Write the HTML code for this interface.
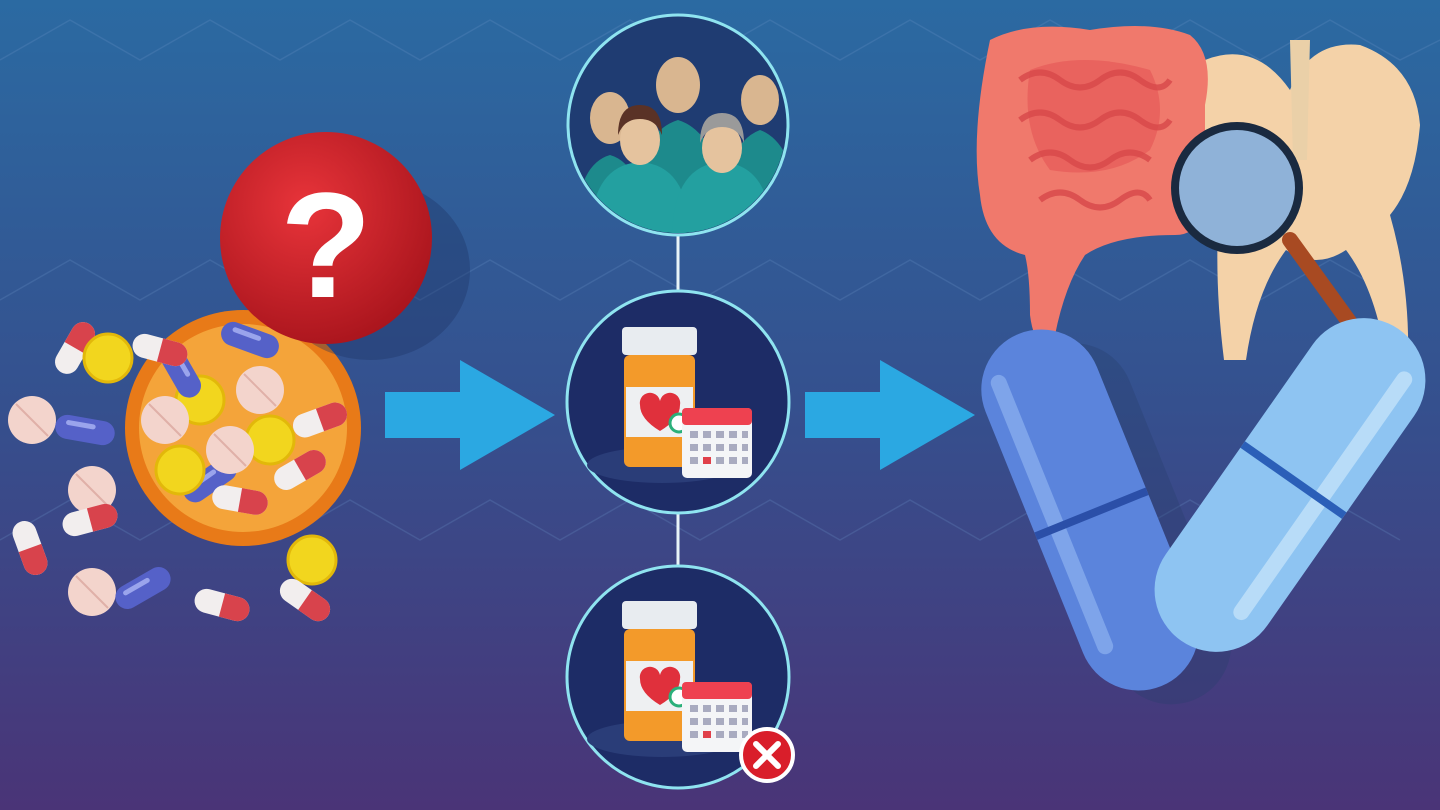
<!DOCTYPE html>
<html><head><meta charset="utf-8"><style>
html,body{margin:0;padding:0;width:1440px;height:810px;overflow:hidden}
svg{display:block}
</style></head><body>
<svg width="1440" height="810" viewBox="0 0 1440 810" xmlns="http://www.w3.org/2000/svg">
<defs>
<linearGradient id="bg" x1="0" y1="0" x2="0" y2="1">
<stop offset="0" stop-color="#2b6aa2"/><stop offset="0.5" stop-color="#35508e"/><stop offset="1" stop-color="#4a3477"/>
</linearGradient>
<radialGradient id="red" cx="0.4" cy="0.35" r="0.7">
<stop offset="0" stop-color="#e8343a"/><stop offset="1" stop-color="#a8141c"/>
</radialGradient>
<g id="bottle">
<ellipse cx="40" cy="138" rx="75" ry="18" fill="#2a3d78"/>
<rect x="0" y="0" width="75" height="28" rx="4" fill="#e8ecf0"/>
<rect x="2" y="28" width="71" height="112" rx="6" fill="#f39a2a"/>
<rect x="4" y="60" width="67" height="50" fill="#eef0f2"/>
<path d="M18 78 a10 10 0 0 1 20 -4 a10 10 0 0 1 20 4 q0 14 -20 26 q-20 -12 -20 -26z" fill="#e0303c"/>
<circle cx="57" cy="96" r="9" fill="#fff" stroke="#2bb07a" stroke-width="3"/>
<rect x="60" y="81" width="70" height="70" rx="5" fill="#f4f5f7"/>
<rect x="60" y="81" width="70" height="17" rx="4" fill="#ee4150"/>
<g fill="#a9abc0">
<rect x="68" y="104" width="8" height="7"/><rect x="81" y="104" width="8" height="7"/><rect x="94" y="104" width="8" height="7"/><rect x="107" y="104" width="8" height="7"/><rect x="120" y="104" width="6" height="7"/>
<rect x="68" y="117" width="8" height="7"/><rect x="81" y="117" width="8" height="7"/><rect x="94" y="117" width="8" height="7"/><rect x="107" y="117" width="8" height="7"/><rect x="120" y="117" width="6" height="7"/>
<rect x="68" y="130" width="8" height="7"/><rect x="94" y="130" width="8" height="7"/><rect x="107" y="130" width="8" height="7"/><rect x="120" y="130" width="6" height="7"/>
</g>
<rect x="81" y="130" width="8" height="7" fill="#e0404a"/>
</g>
<g id="pill">
<rect x="-28" y="-12" width="56" height="24" rx="12" fill="#f2eeee"/>
<path d="M0 -12 h16 a12 12 0 0 1 0 24 h-16z" fill="#d8434c"/>
</g>
<g id="bpill">
<rect x="-30" y="-12" width="60" height="24" rx="12" fill="#5561c8"/>
<rect x="-20" y="-7" width="30" height="5" rx="2.5" fill="#9aa4ec"/>
</g>
<g id="tab"><circle r="24" fill="#f3d4cc"/><line x1="-16" y1="-16" x2="16" y2="16" stroke="#e0b0a8" stroke-width="2"/></g>
<g id="ytab"><circle r="24" fill="#f2d61e"/><circle r="24" fill="none" stroke="#e2b80a" stroke-width="3"/></g>
</defs>
<rect width="1440" height="810" fill="url(#bg)"/>
<g stroke="#6a92c8" stroke-opacity="0.25" fill="none" stroke-width="1.5">
<path d="M0 60 L70 20 L140 60 L210 20 L280 60 L350 20 L420 60 L490 20 L560 60 L630 20 L700 60 L770 20 L840 60 L910 20 L980 60 L1050 20 L1120 60 L1190 20 L1260 60 L1330 20 L1400 60 L1440 40"/>
<path d="M0 300 L70 260 L140 300 L210 260 L280 300 L350 260 L420 300 L490 260 L560 300 L630 260 L700 300 L770 260 L840 300 L910 260 L980 300 L1050 260 L1120 300 L1190 260 L1260 300 L1330 260 L1400 300"/>
<path d="M0 540 L70 500 L140 540 L210 500 L280 540 L350 500 L420 540 L490 500 L560 540 L630 500 L700 540 L770 500 L840 540 L910 500 L980 540 L1050 500 L1120 540 L1190 500 L1260 540 L1330 500 L1400 540"/>
</g>
<!-- bowl -->
<circle cx="243" cy="428" r="118" fill="#e87a18"/>
<circle cx="243" cy="428" r="104" fill="#f4a43a"/>
<use href="#ytab" x="200" y="400"/><use href="#tab" x="165" y="420"/><use href="#ytab" x="270" y="440"/>
<use href="#tab" x="260" y="390"/><use href="#bpill" transform="translate(250,340) rotate(20)"/>
<use href="#bpill" transform="translate(210,480) rotate(-35)"/><use href="#pill" transform="translate(300,470) rotate(-30)"/>
<use href="#ytab" x="180" y="470"/><use href="#pill" transform="translate(240,500) rotate(10)"/>
<use href="#bpill" transform="translate(180,370) rotate(60)"/><use href="#pill" transform="translate(320,420) rotate(-20)"/>
<use href="#tab" x="230" y="450"/><use href="#pill" transform="translate(160,350) rotate(15)"/>
<!-- question ball -->
<ellipse cx="370" cy="270" rx="100" ry="90" fill="#1e3060" opacity="0.35"/>
<circle cx="326" cy="238" r="106" fill="url(#red)"/>
<text x="326" y="297" text-anchor="middle" font-family="Liberation Sans, sans-serif" font-weight="bold" font-size="150" fill="#fff">?</text>
<!-- scattered pills -->
<use href="#pill" transform="translate(75,348) rotate(-60)"/><use href="#ytab" x="108" y="358"/>
<use href="#tab" x="32" y="420"/><use href="#bpill" transform="translate(85,430) rotate(10)"/>
<use href="#tab" x="92" y="490"/><use href="#pill" transform="translate(90,520) rotate(-15)"/>
<use href="#pill" transform="translate(30,548) rotate(70)"/><use href="#tab" x="92" y="592"/>
<use href="#bpill" transform="translate(143,588) rotate(-30)"/><use href="#pill" transform="translate(222,605) rotate(15)"/>
<use href="#ytab" x="312" y="560"/><use href="#pill" transform="translate(305,600) rotate(35)"/>
<!-- arrows -->
<polygon points="385,392 460,392 460,360 555,415 460,470 460,438 385,438" fill="#2ba8e2"/>
<polygon points="805,392 880,392 880,360 975,415 880,470 880,438 805,438" fill="#2ba8e2"/>
<!-- circles -->
<line x1="678" y1="230" x2="678" y2="300" stroke="#e8f4f8" stroke-width="3"/>
<line x1="678" y1="510" x2="678" y2="570" stroke="#e8f4f8" stroke-width="3"/>
<circle cx="678" cy="125" r="110" fill="#1f3c72" stroke="#8fe4f0" stroke-width="3"/>
<circle cx="678" cy="402" r="111" fill="#1d2c66" stroke="#8fe4f0" stroke-width="3"/>
<circle cx="678" cy="677" r="111" fill="#1d2c66" stroke="#8fe4f0" stroke-width="3"/>
<!-- people -->
<clipPath id="pc"><circle cx="678" cy="125" r="108"/></clipPath>
<g clip-path="url(#pc)">
<g fill="#1d8a8c">
<path d="M575 240 q0 -75 35 -85 q35 10 35 85z"/><path d="M720 240 q0 -95 40 -110 q40 15 40 110z"/>
<path d="M630 240 q0 -105 48 -120 q48 15 48 120z"/>
</g>
<g fill="#d9b690"><ellipse cx="610" cy="118" rx="20" ry="26"/><ellipse cx="760" cy="100" rx="19" ry="25"/><ellipse cx="678" cy="85" rx="22" ry="28"/></g>
<g fill="#23a0a0"><path d="M590 240 q0 -75 50 -78 q50 3 50 78z"/><path d="M672 240 q0 -75 50 -78 q50 3 50 78z"/></g>
<g fill="#e5c39e"><ellipse cx="640" cy="140" rx="20" ry="25"/><ellipse cx="722" cy="148" rx="20" ry="25"/></g>
<path d="M618 135 q0 -30 22 -30 q22 0 22 30 q-6 -16 -22 -16 q-16 0 -22 16z" fill="#5a3226"/>
<path d="M700 143 q0 -30 22 -30 q22 0 22 30 q-6 -16 -22 -16 q-16 0 -22 16z" fill="#9a9a9a"/>
</g>
<use href="#bottle" x="622" y="327"/>
<use href="#bottle" x="622" y="601"/>
<circle cx="767" cy="755" r="26" fill="#d91e2a" stroke="#fff" stroke-width="4"/>
<path d="M756 744 l22 22 M778 744 l-22 22" stroke="#fff" stroke-width="6" stroke-linecap="round"/>
<!-- pelvis -->
<path d="M1205 60 q50 -20 85 30 q20 -50 70 -45 q55 20 60 80 q-5 60 -30 90 q20 70 18 145 h-22 q-10 -70 -40 -110 q-30 20 -60 0 q-30 40 -40 110 h-22 q-10 -80 -5 -150 q-25 -60 -14 -150z" fill="#f4d2a8"/>
<path d="M1290 40 h20 l-3 120 h-14z" fill="#ead0a8"/>
<!-- intestine -->
<path d="M990 40 q40 -20 100 -10 q60 -10 100 5 q25 20 15 70 v110 q-10 20 -30 20 q-60 0 -90 20 q-20 30 -30 80 q-20 20 -25 -20 q0 -40 -5 -60 q-40 -10 -45 -60 q-10 -60 10 -155z" fill="#f0796c"/>
<path d="M1030 70 q50 -20 120 0 q20 40 0 80 q-40 30 -100 20 q-30 -40 -20 -100z" fill="#e65a58" opacity="0.7"/>
<g stroke="#d8484a" stroke-width="6" fill="none" opacity="0.8">
<path d="M1020 80 q20 -15 40 0 t40 0 t40 0 t30 0"/><path d="M1020 120 q20 -15 40 0 t40 0 t40 0 t30 0"/><path d="M1030 160 q20 -15 40 0 t40 0 t40 0"/><path d="M1040 200 q20 -15 40 0 t40 0 t30 0"/>
</g>
<!-- magnifier -->
<line x1="1290" y1="240" x2="1355" y2="330" stroke="#a84a22" stroke-width="16" stroke-linecap="round"/>
<circle cx="1237" cy="188" r="62" fill="#8fb2d8" stroke="#1a2a40" stroke-width="8"/>
<!-- capsules V -->
<g transform="translate(1090,510) rotate(-22)">
<rect x="-60" y="-190" width="120" height="380" rx="60" fill="#29406e" opacity="0.35" transform="translate(25,25)"/>
<rect x="-60" y="-190" width="120" height="380" rx="60" fill="#5b84dc"/>
<rect x="-45" y="-160" width="16" height="300" rx="8" fill="#7ea4ea"/>
<rect x="-60" y="0" width="120" height="8" fill="#2b4fa8"/>
</g>
<g transform="translate(1290,485) rotate(35)">
<rect x="-62" y="-190" width="124" height="380" rx="62" fill="#8ec4f2"/>
<rect x="25" y="-160" width="16" height="300" rx="8" fill="#b8dcf8"/>
<rect x="-62" y="-10" width="124" height="8" fill="#2b5fb8"/>
</g>
</svg>
</body></html>
